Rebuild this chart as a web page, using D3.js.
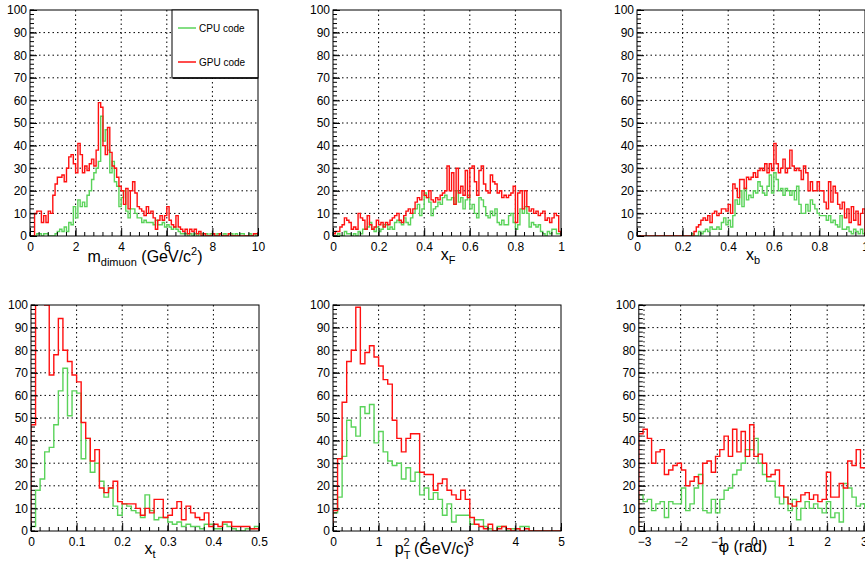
<!DOCTYPE html>
<html><head><meta charset="utf-8">
<script src="https://cdn.jsdelivr.net/npm/d3@7"></script>
<style>body{margin:0;background:#fff}svg{font-family:"Liberation Sans",Arial,sans-serif}</style>
</head><body><svg id="c" width="865" height="563"></svg>
<script>
const mCpu=[0,0,0,1,1,0,1,1,0,0, 0,1,2,3,2,4,2,6,5,13, 8,16,13,15,13,18,20,25,28,30, 33,53,42,47,38,28,33,24,22,13, 17,20,11,8,12,12,10,8,8,6, 7,6,6,6,5,7,5,5,6,4, 5,4,3,4,3,2,1,1,1,0, 1,0,1,0,1,1,0,1,0,1, 1,0,1,1,0,1,0,1,1,0, 1,0,1,1,0,0,1,0,1,0];
const mGpu=[0,0,10,11,11,6,9,6,11,10, 18,23,26,26,27,24,30,35,36,32, 28,41,36,28,31,29,32,34,31,38, 59,57,40,36,48,37,31,30,26,22, 20,14,21,12,20,24,19,13,12,11, 9,13,10,11,8,3,7,9,7,9, 13,7,5,4,9,4,3,2,3,1, 3,2,3,1,2,0,1,0,0,0, 1,0,0,1,0,0,0,1,0,0, 0,0,0,0,0,0,0,0,1,1];
const xfCpu=[0,0,1,0,0,2,1,1,0,1, 0,2,1,3,3,4,6,3,2,4, 2,3,5,5,3,4,3,6,7,6, 5,8,6,5,8,10,12,14,9,12, 19,17,15,9,12,13,15,14,17,18, 16,16,17,14,20,15,17,12,16,18, 12,14,10,8,17,16,13,9,8,11, 9,12,6,5,7,5,5,9,10,6, 3,5,12,10,13,10,4,6,5,4, 5,2,1,0,2,1,3,3,1,1];
const xfGpu=[1,2,2,4,5,8,7,6,3,4, 3,10,8,7,3,9,5,3,4,7, 5,6,4,6,5,7,8,9,10,7, 6,9,11,12,10,12,15,17,16,20, 18,17,20,16,15,17,16,18,19,20, 31,20,28,14,30,19,22,18,29,17, 30,31,24,18,29,31,23,20,19,27, 24,23,19,20,17,18,17,18,19,22, 6,19,20,12,20,13,11,12,10,11, 9,10,11,7,8,6,8,10,9,2];
const xbCpu=[0,0,0,0,0,0,0,0,0,0, 0,0,0,0,0,0,0,0,0,0, 0,0,0,0,1,0,0,2,1,2, 3,2,4,3,3,4,3,6,8,5, 7,4,9,16,14,20,13,21,16,18, 17,20,19,24,22,19,18,22,27,19, 28,25,20,21,18,21,20,18,20,16, 22,14,10,10,14,11,16,14,12,10, 9,9,9,7,9,6,7,5,4,9, 3,3,4,2,1,3,2,1,3,1];
const xbGpu=[0,0,0,0,0,0,0,0,0,0, 0,0,0,0,0,0,0,0,0,0, 0,0,0,0,0,2,4,5,7,8, 7,9,6,10,11,9,10,12,12,11, 14,10,23,21,17,25,25,21,26,25, 26,28,26,29,30,29,32,28,32,29, 41,32,28,30,34,28,30,38,31,29, 30,29,25,31,28,20,24,20,20,24, 20,20,15,12,24,15,22,19,14,12, 15,8,12,6,13,7,11,5,10,12];
const xtCpu=[2,18,23,35,37,47,62,72,51,62, 61,32,41,26,30,22,15,19,11,7, 12,11,9,8,6,16,9,5,6,6, 4,3,4,2,3,2,2,1,3,3, 1,1,3,2,1,0,0,1,1,2];
const xtGpu=[47,130,130,100,69,78,94,80,75,69, 66,48,41,31,36,19,17,19,22,13, 12,12,12,10,7,10,8,14,14,6, 7,10,13,5,11,8,6,5,8,2, 3,2,4,4,2,2,2,2,1,1];
const ptCpu=[8,15,33,49,46,42,55,52,56,39, 44,35,31,29,30,23,28,22,26,16, 19,14,17,14,7,12,4,7,7,7, 3,5,5,2,1,0,2,2,0,1, 1,2,2,0,0,0,0,0,0,0];
const ptGpu=[9,32,57,75,80,99,74,79,82,77, 73,67,65,49,41,35,41,43,43,26, 25,25,18,21,23,18,16,14,18,14, 6,3,2,1,3,0,1,2,1,0, 1,0,1,0,0,0,0,0,0,0];
const phiCpu=[16,13,14,9,12,13,6,13,12,12,19,9,12,19,25,9,8,14,8,14,18,19,25,27,30,36,36, 41,30,25,22,22,15,12,15,9,14,5,10,13,10,12,10,8,13,6,8,4,21,19,15,11,12,10];
const phiGpu=[43,45,41,30,35,36,25,27,29,30,27,20,22,24,21,30,31,26,33,36,42,33,45,35,44,33,47, 33,34,30,24,25,27,20,15,12,11,13,16,17,14,16,13,14,26,15,15,21,19,31,29,36,28,28];
const yTicks=d3.range(0,101,10);
const legendLabels=["CPU code","GPU code"];
const GREEN="#5ad35a", RED="#ff1010";

const panels=[
 {x:30,y:10,lo:0,hi:10,ticks:[0,2,4,6,8,10],minor:0.4,cpu:mCpu,gpu:mGpu,label:"m",sub:"dimuon",rest:" (GeV/c",sup:"2",tail:")",lx:145,ly:262},
 {x:333,y:10,lo:0,hi:1,ticks:[0,0.2,0.4,0.6,0.8,1],minor:0.04,cpu:xfCpu,gpu:xfGpu,label:"x",sub:"F",lx:448,ly:260},
 {x:637,y:10,lo:0,hi:1,ticks:[0,0.2,0.4,0.6,0.8,1],minor:0.04,cpu:xbCpu,gpu:xbGpu,label:"x",sub:"b",lx:753,ly:260},
 {x:31,y:305,lo:0,hi:0.5,ticks:[0,0.1,0.2,0.3,0.4,0.5],minor:0.02,cpu:xtCpu,gpu:xtGpu,label:"x",sub:"t",lx:150,ly:554},
 {x:333,y:305,lo:0,hi:5,ticks:[0,1,2,3,4,5],minor:0.2,cpu:ptCpu,gpu:ptGpu,label:"p",sub:"T",sup:"2",rest:" (GeV/c)",lx:432,ly:554,pt:true},
 {x:638.8,y:305,lo:-Math.PI,hi:Math.PI,ticks:[-3,-2,-1,0,1,2,3],minor:0.2,cpu:phiCpu,gpu:phiGpu,label:"φ (rad)",lx:743,ly:552}
];
const W=228,H=226;
const svg=d3.select("#c");
const fmt=v=>{const s=d3.format("~g")(v);return s.replace("-","−");};
panels.forEach((p,pi)=>{
 const w=p.pi===undefined?W:W;
 const pw=(pi==5)?230.2:W;
 const g=svg.append("g").attr("transform",`translate(${p.x},${p.y})`);
 const x=d3.scaleLinear().domain([p.lo,p.hi]).range([0,pw]);
 const y=d3.scaleLinear().domain([0,100]).range([H,0]);
 g.append("clipPath").attr("id","cp"+pi).append("rect").attr("width",pw).attr("height",H);
 // grid
 g.selectAll(".gx").data(p.ticks.filter(t=>t>p.lo&&t<p.hi)).join("line").attr("x1",d=>x(d)).attr("x2",d=>x(d)).attr("y1",0).attr("y2",H).attr("stroke","#000").attr("stroke-dasharray","1.5,3");
 g.selectAll(".gy").data(yTicks.slice(1,-1)).join("line").attr("x1",0).attr("x2",pw).attr("y1",d=>y(d)).attr("y2",d=>y(d)).attr("stroke","#000").attr("stroke-dasharray","1.5,3");
 // histos
 const line=d3.line().x(d=>x(d[0])).y(d=>y(d[1]));
 const build=arr=>{const bw=(p.hi-p.lo)/arr.length;const pts=[[p.lo,0]];arr.forEach((v,i)=>{pts.push([p.lo+i*bw,v],[p.lo+(i+1)*bw,v]);});pts.push([p.hi,0]);return pts;};
 const hg=g.append("g").attr("clip-path",`url(#cp${pi})`);
 hg.append("path").attr("d",line(build(p.cpu))).attr("fill","none").attr("stroke",GREEN).attr("stroke-width",1.4);
 hg.append("path").attr("d",line(build(p.gpu))).attr("fill","none").attr("stroke",RED).attr("stroke-width",1.4);
 // axes
 const ax=d3.axisBottom(x).tickValues(p.ticks).tickSize(-8).tickFormat(fmt).tickPadding(4);
 const axg=g.append("g").attr("transform",`translate(0,${H})`).call(ax);
 axg.select(".domain").remove();
 axg.selectAll("text").attr("font-size",12).attr("fill","#000").attr("dy","0.9em");
 const mx=d3.range(Math.ceil(p.lo/p.minor)*p.minor,p.hi+1e-9,p.minor);
 g.selectAll(".mx").data(mx).join("line").attr("x1",d=>x(d)).attr("x2",d=>x(d)).attr("y1",H).attr("y2",H-4).attr("stroke","#000");
 const ay=d3.axisLeft(y).tickValues(yTicks).tickSize(-7).tickPadding(3);
 const ayg=g.append("g").call(ay);
 ayg.select(".domain").remove();
 ayg.selectAll("text").attr("font-size",12).attr("fill","#000");
 g.selectAll(".my").data(d3.range(0,101,2)).join("line").attr("x1",0).attr("x2",4).attr("y1",d=>y(d)).attr("y2",d=>y(d)).attr("stroke","#000");
 g.append("rect").attr("width",pw).attr("height",H).attr("fill","none").attr("stroke","#000");
 // label
 const t=svg.append("text").attr("x",p.lx).attr("y",p.ly).attr("font-size",16).attr("text-anchor","middle");
 t.append("tspan").text(p.label);
 if(p.pt){
   t.append("tspan").attr("font-size",11).attr("dy",5).attr("dx",0).text(p.sub);
   t.append("tspan").attr("font-size",11).attr("dy",-13).attr("dx",-7).text(p.sup);
   t.append("tspan").attr("dy",8).text(p.rest);
 } else if(p.sub){
   t.append("tspan").attr("font-size",11).attr("dy",4).text(p.sub);
   if(p.rest){t.append("tspan").attr("dy",-4).text(p.rest);
     t.append("tspan").attr("font-size",11).attr("dy",-7).text(p.sup);
     t.append("tspan").attr("dy",7).text(p.tail);}
 }
});
// legend
const lg=svg.append("g").attr("transform","translate(172,10)");
lg.append("rect").attr("width",86).attr("height",68).attr("fill","#fff").attr("stroke","#000");
lg.append("line").attr("x1",1).attr("x2",86).attr("y1",68).attr("y2",68).attr("stroke","#000").attr("stroke-width",1.5);
[GREEN,RED].forEach((c,i)=>{
 const yy=i?52:18;
 lg.append("line").attr("x1",6).attr("x2",24).attr("y1",yy).attr("y2",yy).attr("stroke",c).attr("stroke-width",1.5);
 lg.append("text").attr("x",27).attr("y",yy+3.5).attr("font-size",10).text(legendLabels[i]);
});
</script></body></html>
